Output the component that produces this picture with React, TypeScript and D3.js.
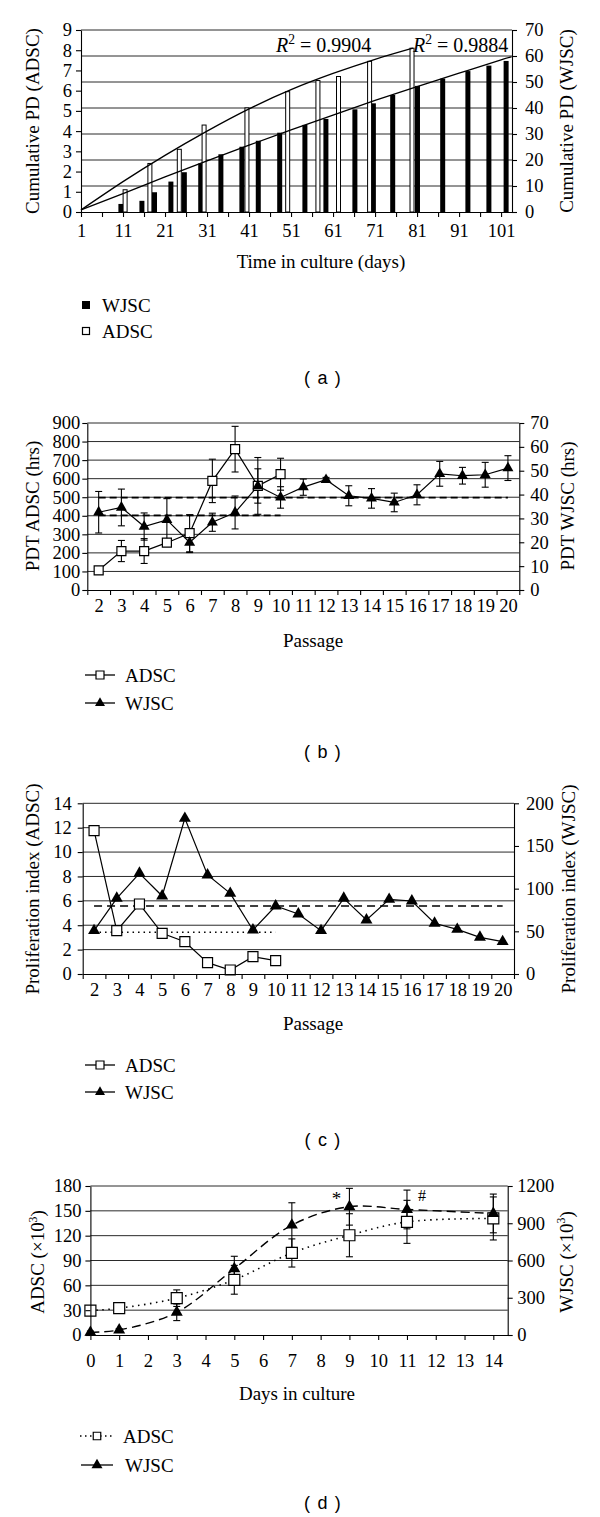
import { useEffect, useRef } from 'react';
import * as d3 from 'd3';

const SERIF = '"Liberation Serif", "Times New Roman", serif';
const SANS = '"Liberation Sans", Arial, sans-serif';
const TICK_FS = 18.5;
const TITLE_FS = 19;

// (a) cumulative population doublings vs time in culture
const pdDayTicks = [1, 6, 11, 16, 21, 26, 31, 36, 41, 46, 51, 56, 61, 66, 71, 76, 81, 86, 91, 96, 101];
const pdWjscDays = [10.5, 15.5, 18.5, 22.4, 25.6, 29.5, 34.3, 39.3, 43.2, 48.3, 54.3, 59.3, 66.2, 70.6, 75.2, 81.1, 87.1, 93.1, 98.1, 102.2];
const pdWjscValues = [3.1, 4.3, 7.6, 11.7, 15.3, 18.7, 22.2, 25.1, 27.4, 30.5, 33.5, 35.8, 39.5, 41.8, 45, 48.5, 51.3, 54.2, 56.3, 58.1];
const pdAdscDays = [11.5, 17.4, 24.4, 30.3, 40.5, 50.2, 57.4, 62.3, 69.7, 79.8];
const pdAdscValues = [1.1, 2.4, 3.1, 4.3, 5.15, 5.95, 6.5, 6.7, 7.45, 8.1];
// trendlines as drawn (day, value)
const pdAdscTrend: [number, number][] = [[1, 0.1], [11, 1.5], [21, 2.8], [31, 4.0], [41, 5.1], [51, 6.05], [61, 6.85], [71, 7.55], [80, 8.1]];
const pdWjscTrend: [number, number][] = [[1, 0.8], [11, 7.1], [21, 13.5], [31, 19.7], [41, 25.7], [51, 31.6], [61, 37.3], [71, 42.9], [81, 48.2], [91, 53.4], [101, 58.5], [103.5, 59.7]];

// (b) population doubling time per passage
const passages = [2, 3, 4, 5, 6, 7, 8, 9, 10, 11, 12, 13, 14, 15, 16, 17, 18, 19, 20];
const pdtAdsc = [106, 210, 210, 255, 306, 588, 759, 561, 624];
const pdtAdscErr = [20, 57, 67, 12, 100, 117, 123, 153, 86];
const pdtWjsc = [32.6, 34.6, 26.6, 29.4, 19.9, 28.4, 32.5, 43.6, 38.8, 43.1, 46.2, 39.5, 38.4, 36.7, 39.9, 48.7, 47.9, 48.3, 51.1];
const pdtWjscErr = [8.7, 7.7, 5.7, 8.9, 4.2, 3.8, 6.9, 7.2, 4.5, 3.4, 1, 4.2, 4.1, 3.9, 4.2, 5.2, 3.5, 5.2, 5.2];
const pdtAdscMean = 402;
const pdtWjscMean = 38.7;

// (c) proliferation index per passage
const piAdsc = [11.76, 3.55, 5.74, 3.34, 2.65, 0.93, 0.33, 1.42, 1.09];
const piWjsc = [50.8, 88.7, 118, 91.4, 182.4, 116, 94.5, 51.6, 79.7, 70.3, 50.8, 88.7, 63.3, 87.5, 85.5, 59.4, 52.3, 43, 37.9];
const piAdscMean = 3.42;
const piWjscMean = 79.6;

// (d) growth curve
const cultureDays = [0, 1, 3, 5, 7, 9, 11, 14];
const countAdsc = [29.5, 32.4, 44.5, 66.7, 99.1, 120.5, 136.7, 140.8];
const countAdscErr = [2, 2, 10, 17.4, 17, 26, 26, 26];
const countWjsc = [21.6, 40.5, 183, 534, 885, 1033, 1011, 979];
const countWjscErr = [10, 10, 67, 100, 180, 148, 156, 156];

type Run = { t: string; sup?: boolean; it?: boolean };

const richText = (sel: any, runs: Run[], fs: number, supScale = 0.62) => {
  let shifted = false;
  runs.forEach((r) => {
    const ts = sel.append('tspan').text(r.t);
    if (r.sup) {
      ts.attr('font-size', fs * supScale).attr('dy', -fs * 0.4);
      shifted = true;
    } else if (shifted) {
      ts.attr('dy', fs * 0.4);
      shifted = false;
    }
    if (r.it) ts.attr('font-style', 'italic');
  });
};

const styleAxis = (s: any) => {
  s.attr('font-family', SERIF).attr('font-size', TICK_FS);
  s.selectAll('path, line').attr('stroke', '#000').attr('stroke-width', 1.1);
};

const yAxes = (g: any, yL: any, yR: any, lt: number[], rt: number[], x0: number, x1: number, padL: number, padR: number) => {
  g.append('g')
    .attr('transform', `translate(${x0},0)`)
    .call(d3.axisLeft(yL).tickValues(lt).tickSize(5).tickSizeOuter(0).tickPadding(padL).tickFormat(d3.format('d')))
    .call(styleAxis);
  g.append('g')
    .attr('transform', `translate(${x1},0)`)
    .call(d3.axisRight(yR).tickValues(rt).tickSize(5).tickSizeOuter(0).tickPadding(padR).tickFormat(d3.format('d')))
    .call(styleAxis);
};

const grid = (g: any, y: any, vals: number[], x0: number, x1: number) => {
  g.append('g')
    .selectAll('line')
    .data(vals)
    .join('line')
    .attr('x1', x0)
    .attr('x2', x1)
    .attr('y1', (d: number) => y(d))
    .attr('y2', (d: number) => y(d))
    .attr('stroke', '#2a2a2a')
    .attr('stroke-width', 1);
};

const passageAxis = (g: any, x: any, yBot: number, pad: number) => {
  g.append('g')
    .attr('transform', `translate(0,${yBot})`)
    .call(d3.axisBottom(x).tickValues(d3.range(1.5, 21, 1)).tickSize(5).tickSizeOuter(0).tickFormat(() => ''))
    .call(styleAxis);
  g.append('g')
    .attr('transform', `translate(0,${yBot})`)
    .call(d3.axisBottom(x).tickValues(passages).tickSize(0).tickPadding(pad).tickFormat(d3.format('d')))
    .call(styleAxis)
    .call((s: any) => s.select('.domain').remove());
};

const vTitle = (g: any, cx: number, cy: number, runs: Run[]) => {
  const t = g
    .append('text')
    .attr('transform', `translate(${cx},${cy}) rotate(-90)`)
    .attr('text-anchor', 'middle')
    .attr('dy', '0.35em')
    .attr('font-family', SERIF)
    .attr('font-size', TITLE_FS);
  richText(t, runs, TITLE_FS);
};

const hText = (g: any, x: number, y: number, text: string, anchor = 'middle', fs = TITLE_FS, family = SERIF) =>
  g.append('text').attr('x', x).attr('y', y).attr('text-anchor', anchor).attr('font-family', family).attr('font-size', fs).text(text);

const errorBars = (g: any, pts: { x: number; lo: number; hi: number }[], cap = 7) => {
  const eg = g.append('g').attr('stroke', '#000').attr('stroke-width', 1.1);
  pts.forEach((p) => {
    eg.append('line').attr('x1', p.x).attr('x2', p.x).attr('y1', p.lo).attr('y2', p.hi);
    eg.append('line').attr('x1', p.x - cap / 2).attr('x2', p.x + cap / 2).attr('y1', p.lo).attr('y2', p.lo);
    eg.append('line').attr('x1', p.x - cap / 2).attr('x2', p.x + cap / 2).attr('y1', p.hi).attr('y2', p.hi);
  });
};

const squares = (g: any, pts: [number, number][], size: number) =>
  g
    .append('g')
    .selectAll('path')
    .data(pts)
    .join('path')
    .attr('transform', (d: [number, number]) => `translate(${d[0]},${d[1]})`)
    .attr('d', d3.symbol(d3.symbolSquare, size * size)())
    .attr('fill', '#fff')
    .attr('stroke', '#000')
    .attr('stroke-width', 1.2);

const triangles = (g: any, pts: [number, number][], w: number) =>
  g
    .append('g')
    .selectAll('path')
    .data(pts)
    .join('path')
    .attr('transform', (d: [number, number]) => `translate(${d[0]},${d[1]})`)
    .attr('d', d3.symbol(d3.symbolTriangle, (Math.sqrt(3) / 4) * w * w)())
    .attr('fill', '#000');

const legendRow = (g: any, y: number, kind: 'square' | 'triangle', label: string, dotted = false, lx0 = 85, lx1 = 115, tx = 125, size = 8) => {
  g.append('line')
    .attr('x1', lx0)
    .attr('x2', lx1)
    .attr('y1', y)
    .attr('y2', y)
    .attr('stroke', '#000')
    .attr('stroke-width', dotted ? 1.5 : 1.3)
    .attr('stroke-dasharray', dotted ? '1.5,3.5' : null);
  const mx = (lx0 + lx1) / 2;
  if (kind === 'square') squares(g, [[mx, y]], size);
  else triangles(g, [[mx, y]], size + 2);
  hText(g, tx, y + 6.5, label, 'start');
};

const caption = (g: any, y: number, letter: string) =>
  hText(g, 323, y, `( ${letter} )`, 'middle', 18, SANS).attr('letter-spacing', 1.2);

function drawA(svg: any) {
  const x0 = 81, x1 = 512, yTop = 30, yBot = 212;
  const x = d3.scaleLinear().domain([1, 103.6]).range([x0, x1]);
  const yL = d3.scaleLinear().domain([0, 9]).range([yBot, yTop]);
  const yR = d3.scaleLinear().domain([0, 70]).range([yBot, yTop]);
  const g = svg.append('g');

  grid(g, yR, [10, 20, 30, 40, 50, 60, 70], x0, x1);

  const bw = 5;
  g.append('g')
    .selectAll('rect')
    .data(d3.zip(pdWjscDays, pdWjscValues))
    .join('rect')
    .attr('x', (d: number[]) => x(d[0]) - bw / 2)
    .attr('y', (d: number[]) => yR(d[1]))
    .attr('width', bw)
    .attr('height', (d: number[]) => yBot - yR(d[1]))
    .attr('fill', '#000');
  g.append('g')
    .selectAll('rect')
    .data(d3.zip(pdAdscDays, pdAdscValues))
    .join('rect')
    .attr('x', (d: number[]) => x(d[0]) - bw / 2 + 0.5)
    .attr('y', (d: number[]) => yL(d[1]))
    .attr('width', bw - 1)
    .attr('height', (d: number[]) => yBot - yL(d[1]))
    .attr('fill', '#fff')
    .attr('stroke', '#000')
    .attr('stroke-width', 1);

  const trendL = d3.line<[number, number]>().x((d) => x(d[0])).y((d) => yL(d[1])).curve(d3.curveNatural);
  const trendR = d3.line<[number, number]>().x((d) => x(d[0])).y((d) => yR(d[1])).curve(d3.curveNatural);
  g.append('path').attr('d', trendL(pdAdscTrend)).attr('fill', 'none').attr('stroke', '#000').attr('stroke-width', 1.3);
  g.append('path').attr('d', trendR(pdWjscTrend)).attr('fill', 'none').attr('stroke', '#000').attr('stroke-width', 1.3);

  yAxes(g, yL, yR, [0, 1, 2, 3, 4, 5, 6, 7, 8, 9], [0, 10, 20, 30, 40, 50, 60, 70], x0, x1, 4, 8);
  g.append('g')
    .attr('transform', `translate(0,${yBot})`)
    .call(
      d3
        .axisBottom(x)
        .tickValues(pdDayTicks)
        .tickSize(5)
        .tickSizeOuter(0)
        .tickPadding(7)
        .tickFormat((d: any) => ((d - 1) % 10 === 0 ? String(d) : ''))
    )
    .call(styleAxis);

  const r1 = g.append('text').attr('x', 276).attr('y', 52).attr('font-family', SERIF).attr('font-size', 20);
  richText(r1, [{ t: 'R', it: true }, { t: '2', sup: true }, { t: ' = 0.9904' }], 20, 0.68);
  const r2 = g.append('text').attr('x', 413).attr('y', 52).attr('font-family', SERIF).attr('font-size', 20);
  richText(r2, [{ t: 'R', it: true }, { t: '2', sup: true }, { t: ' = 0.9884' }], 20, 0.68);

  vTitle(g, 32.5, 121, [{ t: 'Cumulative PD (ADSC)' }]);
  vTitle(g, 566, 121, [{ t: 'Cumulative PD (WJSC)' }]);
  hText(g, 321, 268, 'Time in culture (days)');

  g.append('rect').attr('x', 82).attr('y', 301).attr('width', 8).attr('height', 8).attr('fill', '#000');
  hText(g, 102, 311.5, 'WJSC', 'start');
  g.append('rect').attr('x', 82.5).attr('y', 327.5).attr('width', 7).attr('height', 7).attr('fill', '#fff').attr('stroke', '#000').attr('stroke-width', 1.2);
  hText(g, 102, 337.5, 'ADSC', 'start');
  caption(g, 384, 'a');
}

function drawB(svg: any) {
  const x0 = 87.3, x1 = 519.3, yTop = 423, yBot = 590;
  const x = d3.scaleLinear().domain([1.5, 20.5]).range([x0, x1]);
  const yL = d3.scaleLinear().domain([0, 900]).range([yBot, yTop]);
  const yR = d3.scaleLinear().domain([0, 70]).range([yBot, yTop]);
  const g = svg.append('g');

  grid(g, yL, d3.range(100, 901, 100), x0, x1);
  g.append('line').attr('x1', x(2)).attr('x2', x(10)).attr('y1', yL(pdtAdscMean)).attr('y2', yL(pdtAdscMean))
    .attr('stroke', '#000').attr('stroke-width', 1.6).attr('stroke-dasharray', '7,4');
  g.append('line').attr('x1', x(2)).attr('x2', x(20)).attr('y1', yR(pdtWjscMean)).attr('y2', yR(pdtWjscMean))
    .attr('stroke', '#000').attr('stroke-width', 1.6).attr('stroke-dasharray', '7,4');

  const adsc = pdtAdsc.map((v, i) => ({ p: passages[i], v, e: pdtAdscErr[i] }));
  const wjsc = pdtWjsc.map((v, i) => ({ p: passages[i], v, e: pdtWjscErr[i] }));

  g.append('path').attr('d', d3.line<any>().x((d) => x(d.p)).y((d) => yL(d.v))(adsc))
    .attr('fill', 'none').attr('stroke', '#000').attr('stroke-width', 1.2);
  g.append('path').attr('d', d3.line<any>().x((d) => x(d.p)).y((d) => yR(d.v))(wjsc))
    .attr('fill', 'none').attr('stroke', '#000').attr('stroke-width', 1.2);

  errorBars(g, adsc.map((d) => ({ x: x(d.p), lo: yL(d.v - d.e), hi: yL(d.v + d.e) })));
  errorBars(g, wjsc.map((d) => ({ x: x(d.p), lo: yR(d.v - d.e), hi: yR(d.v + d.e) })));
  squares(g, adsc.map((d) => [x(d.p), yL(d.v)] as [number, number]), 9);
  triangles(g, wjsc.map((d) => [x(d.p), yR(d.v)] as [number, number]), 11);

  yAxes(g, yL, yR, d3.range(0, 901, 100), d3.range(0, 71, 10), x0, x1, 2, 6);
  passageAxis(g, x, yBot, 9);

  vTitle(g, 32, 506, [{ t: 'PDT ADSC (hrs)' }]);
  vTitle(g, 567, 506, [{ t: 'PDT WJSC (hrs)' }]);
  hText(g, 313, 647, 'Passage');

  legendRow(g, 675, 'square', 'ADSC');
  legendRow(g, 703, 'triangle', 'WJSC');
  caption(g, 757.5, 'b');
}

function drawC(svg: any) {
  const x0 = 82.7, x1 = 514, yTop = 803.3, yBot = 974;
  const x = d3.scaleLinear().domain([1.5, 20.5]).range([x0, x1]);
  const yL = d3.scaleLinear().domain([0, 14]).range([yBot, yTop]);
  const yR = d3.scaleLinear().domain([0, 200]).range([yBot, yTop]);
  const g = svg.append('g');

  grid(g, yL, [2, 4, 6, 8, 10, 12, 14], x0, x1);
  g.append('line').attr('x1', x(2)).attr('x2', x(10)).attr('y1', yL(piAdscMean)).attr('y2', yL(piAdscMean))
    .attr('stroke', '#000').attr('stroke-width', 1.5).attr('stroke-dasharray', '1.5,4');
  g.append('line').attr('x1', x(2)).attr('x2', x(20)).attr('y1', yR(piWjscMean)).attr('y2', yR(piWjscMean))
    .attr('stroke', '#000').attr('stroke-width', 1.5).attr('stroke-dasharray', '8,5');

  const adsc = piAdsc.map((v, i) => [x(passages[i]), yL(v)] as [number, number]);
  const wjsc = piWjsc.map((v, i) => [x(passages[i]), yR(v)] as [number, number]);
  g.append('path').attr('d', d3.line()(adsc)).attr('fill', 'none').attr('stroke', '#000').attr('stroke-width', 1.2);
  g.append('path').attr('d', d3.line()(wjsc)).attr('fill', 'none').attr('stroke', '#000').attr('stroke-width', 1.2);
  squares(g, adsc, 10);
  triangles(g, wjsc, 12);

  yAxes(g, yL, yR, [0, 2, 4, 6, 8, 10, 12, 14], [0, 50, 100, 150, 200], x0, x1, 6, 7);
  passageAxis(g, x, yBot, 9);

  vTitle(g, 32, 889, [{ t: 'Proliferation index (ADSC)' }]);
  vTitle(g, 568, 889, [{ t: 'Proliferation index (WJSC)' }]);
  hText(g, 313, 1030, 'Passage');

  legendRow(g, 1065, 'square', 'ADSC');
  legendRow(g, 1092, 'triangle', 'WJSC');
  caption(g, 1146, 'c');
}

function drawD(svg: any) {
  const x0 = 90.4, x1 = 507.7, yTop = 1186, yBot = 1335;
  const x = d3.scaleLinear().domain([0, 14.5]).range([x0, x1]);
  const yL = d3.scaleLinear().domain([0, 180]).range([yBot, yTop]);
  const yR = d3.scaleLinear().domain([0, 1200]).range([yBot, yTop]);
  const g = svg.append('g');

  grid(g, yL, [30, 60, 90, 120, 150, 180], x0, x1);

  const adsc = countAdsc.map((v, i) => ({ d: cultureDays[i], v, e: countAdscErr[i] }));
  const wjsc = countWjsc.map((v, i) => ({ d: cultureDays[i], v, e: countWjscErr[i] }));

  g.append('path').attr('d', d3.line<any>().x((d) => x(d.d)).y((d) => yL(d.v)).curve(d3.curveCatmullRom)(adsc))
    .attr('fill', 'none').attr('stroke', '#000').attr('stroke-width', 1.6).attr('stroke-dasharray', '1.5,4.5');
  g.append('path').attr('d', d3.line<any>().x((d) => x(d.d)).y((d) => yR(d.v)).curve(d3.curveCatmullRom)(wjsc))
    .attr('fill', 'none').attr('stroke', '#000').attr('stroke-width', 1.4).attr('stroke-dasharray', '9,5');

  errorBars(g, adsc.map((d) => ({ x: x(d.d), lo: yL(d.v - d.e), hi: yL(d.v + d.e) })));
  errorBars(g, wjsc.map((d) => ({ x: x(d.d), lo: yR(d.v - d.e), hi: yR(d.v + d.e) })));
  squares(g, adsc.map((d) => [x(d.d), yL(d.v)] as [number, number]), 11);
  triangles(g, wjsc.map((d) => [x(d.d), yR(d.v)] as [number, number]), 12);

  yAxes(g, yL, yR, [0, 30, 60, 90, 120, 150, 180], [0, 300, 600, 900, 1200], x0, x1, 4, 4.5);
  g.append('g')
    .attr('transform', `translate(0,${yBot})`)
    .call(d3.axisBottom(x).tickValues(d3.range(0, 15)).tickSize(5).tickSizeOuter(0).tickPadding(14).tickFormat(d3.format('d')))
    .call(styleAxis);

  hText(g, x(9) - 13, 1205, '*', 'middle', 19);
  hText(g, x(11) + 15, 1201, '#', 'middle', 16);

  vTitle(g, 37.5, 1262, [{ t: 'ADSC (×10' }, { t: '3', sup: true }, { t: ')' }]);
  vTitle(g, 566, 1262, [{ t: 'WJSC (×10' }, { t: '3', sup: true }, { t: ')' }]);
  hText(g, 297, 1400, 'Days in culture');

  legendRow(g, 1436, 'square', 'ADSC', true, 80, 114, 123, 7.5);
  legendRow(g, 1465, 'triangle', 'WJSC', false, 81, 113, 125, 9);
  caption(g, 1509, 'd');
}

export default function App() {
  const svgRef = useRef<SVGSVGElement>(null);

  useEffect(() => {
    if (!svgRef.current) return;
    const svg = d3.select(svgRef.current);
    svg.selectAll('*').remove();
    svg.append('rect').attr('width', 600).attr('height', 1517).attr('fill', '#fff');
    drawA(svg);
    drawB(svg);
    drawC(svg);
    drawD(svg);
  }, []);

  return <svg ref={svgRef} width={600} height={1517} style={{ position: 'absolute', left: 0, top: 0, display: 'block' }} />;
}
